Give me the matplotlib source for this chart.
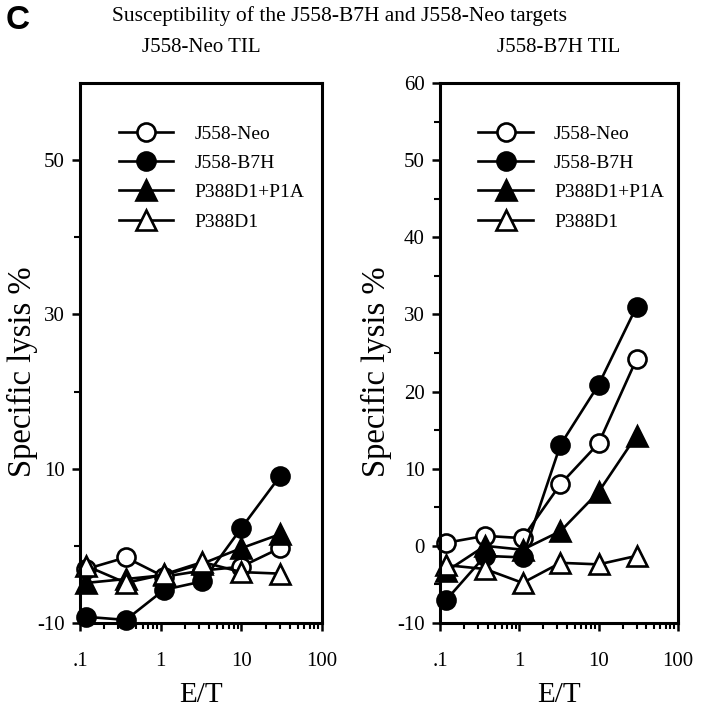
import matplotlib
matplotlib.use("Agg")
import matplotlib.pyplot as plt
from matplotlib.ticker import FixedLocator, NullFormatter, LogLocator

# ---- data ----
et_ratio = [0.12, 0.37, 1.1, 3.3, 10, 30]
series_names = ["J558-Neo", "J558-B7H", "P388D1+P1A", "P388D1"]

neo_til_neo = [-3.0, -1.5, -4.0, -3.2, -2.7, -0.3]
neo_til_b7h = [-9.2, -9.6, -5.7, -4.6, 2.3, 9.0]
neo_til_p1a = [-4.8, -4.3, -3.8, -2.3, -0.3, 1.5]
neo_til_p388 = [-2.6, -4.8, -3.7, -2.1, -3.4, -3.6]

b7h_til_neo = [0.4, 1.3, 1.0, 8.0, 13.3, 24.2]
b7h_til_b7h = [-7.0, -1.3, -1.5, 13.1, 20.9, 31.0]
b7h_til_p1a = [-3.3, 0.0, -0.5, 1.9, 7.0, 14.3]
b7h_til_p388 = [-2.5, -3.0, -4.8, -2.2, -2.4, -1.3]

panel_titles = ["J558-Neo TIL", "J558-B7H TIL"]
left_major = [-10, 10, 30, 50]
left_minor = [0, 20, 40]
right_major = [-10, 0, 10, 20, 30, 40, 50, 60]
right_minor = [-5, 5, 15, 25, 35, 45, 55]
x_ticks = [0.1, 1, 10, 100]
x_labels = [".1", "1", "10", "100"]

styles = [
    dict(marker="o", mfc="white"),
    dict(marker="o", mfc="black"),
    dict(marker="^", mfc="black"),
    dict(marker="^", mfc="white"),
]

serif = ["Liberation Serif", "DejaVu Serif"]
plt.rcParams["font.family"] = serif
plt.rcParams["axes.unicode_minus"] = False

fig = plt.figure(figsize=(7.02, 7.20), dpi=100)
axL = fig.add_axes([80/702, 97/720, 242/702, 540/720])
axR = fig.add_axes([440/702, 97/720, 238/702, 540/720])

panels = [
    (axL, [neo_til_neo, neo_til_b7h, neo_til_p1a, neo_til_p388], left_major, left_minor, -0.175),
    (axR, [b7h_til_neo, b7h_til_b7h, b7h_til_p1a, b7h_til_p388], right_major, right_minor, -0.20),
]

for i, (ax, data, major, minor, ylx) in enumerate(panels):
    for name, ys, st in zip(series_names, data, styles):
        ax.plot(et_ratio, ys, color="black", lw=1.9, marker=st["marker"],
                mfc=st["mfc"], mec="black", mew=1.9,
                ms=13 if st["marker"] == "o" else 14, label=name, clip_on=False)
    ax.set_xscale("log")
    ax.set_xlim(0.1, 100)
    ax.set_ylim(-10, 60)
    ax.set_xticks(x_ticks)
    ax.set_xticklabels(x_labels)
    ax.xaxis.set_minor_locator(LogLocator(base=10, subs=range(2, 10)))
    ax.xaxis.set_minor_formatter(NullFormatter())
    ax.yaxis.set_major_locator(FixedLocator(major))
    ax.yaxis.set_minor_locator(FixedLocator(minor))
    ax.tick_params(which="major", direction="out", length=6, width=1.8, labelsize=15, pad=5)
    ax.tick_params(which="minor", direction="out", length=4, width=1.5)
    ax.tick_params(axis="x", which="major", pad=15)
    for sp in ax.spines.values():
        sp.set_linewidth(2.2)
    ax.set_title(panel_titles[i], fontsize=15, pad=22)
    ax.set_xlabel("E/T", fontsize=21, labelpad=8)
    ax.set_ylabel("Specific lysis %", fontsize=23.5)
    ax.yaxis.set_label_coords(ylx, 0.465)
    ax.legend(loc="upper left", bbox_to_anchor=(0.12, 0.94), frameon=False,
              fontsize=14, handlelength=2.8, labelspacing=0.6, handletextpad=1.1,
              borderpad=0)

fig.text(0.008, 0.972, "C", fontsize=24, fontweight="bold",
         family=["Liberation Sans", "DejaVu Sans"], ha="left", va="center")
fig.text(0.484, 0.978, "Susceptibility of the J558-B7H and J558-Neo targets",
         fontsize=15.5, ha="center", va="center")

fig.savefig("out.png", dpi=100)
